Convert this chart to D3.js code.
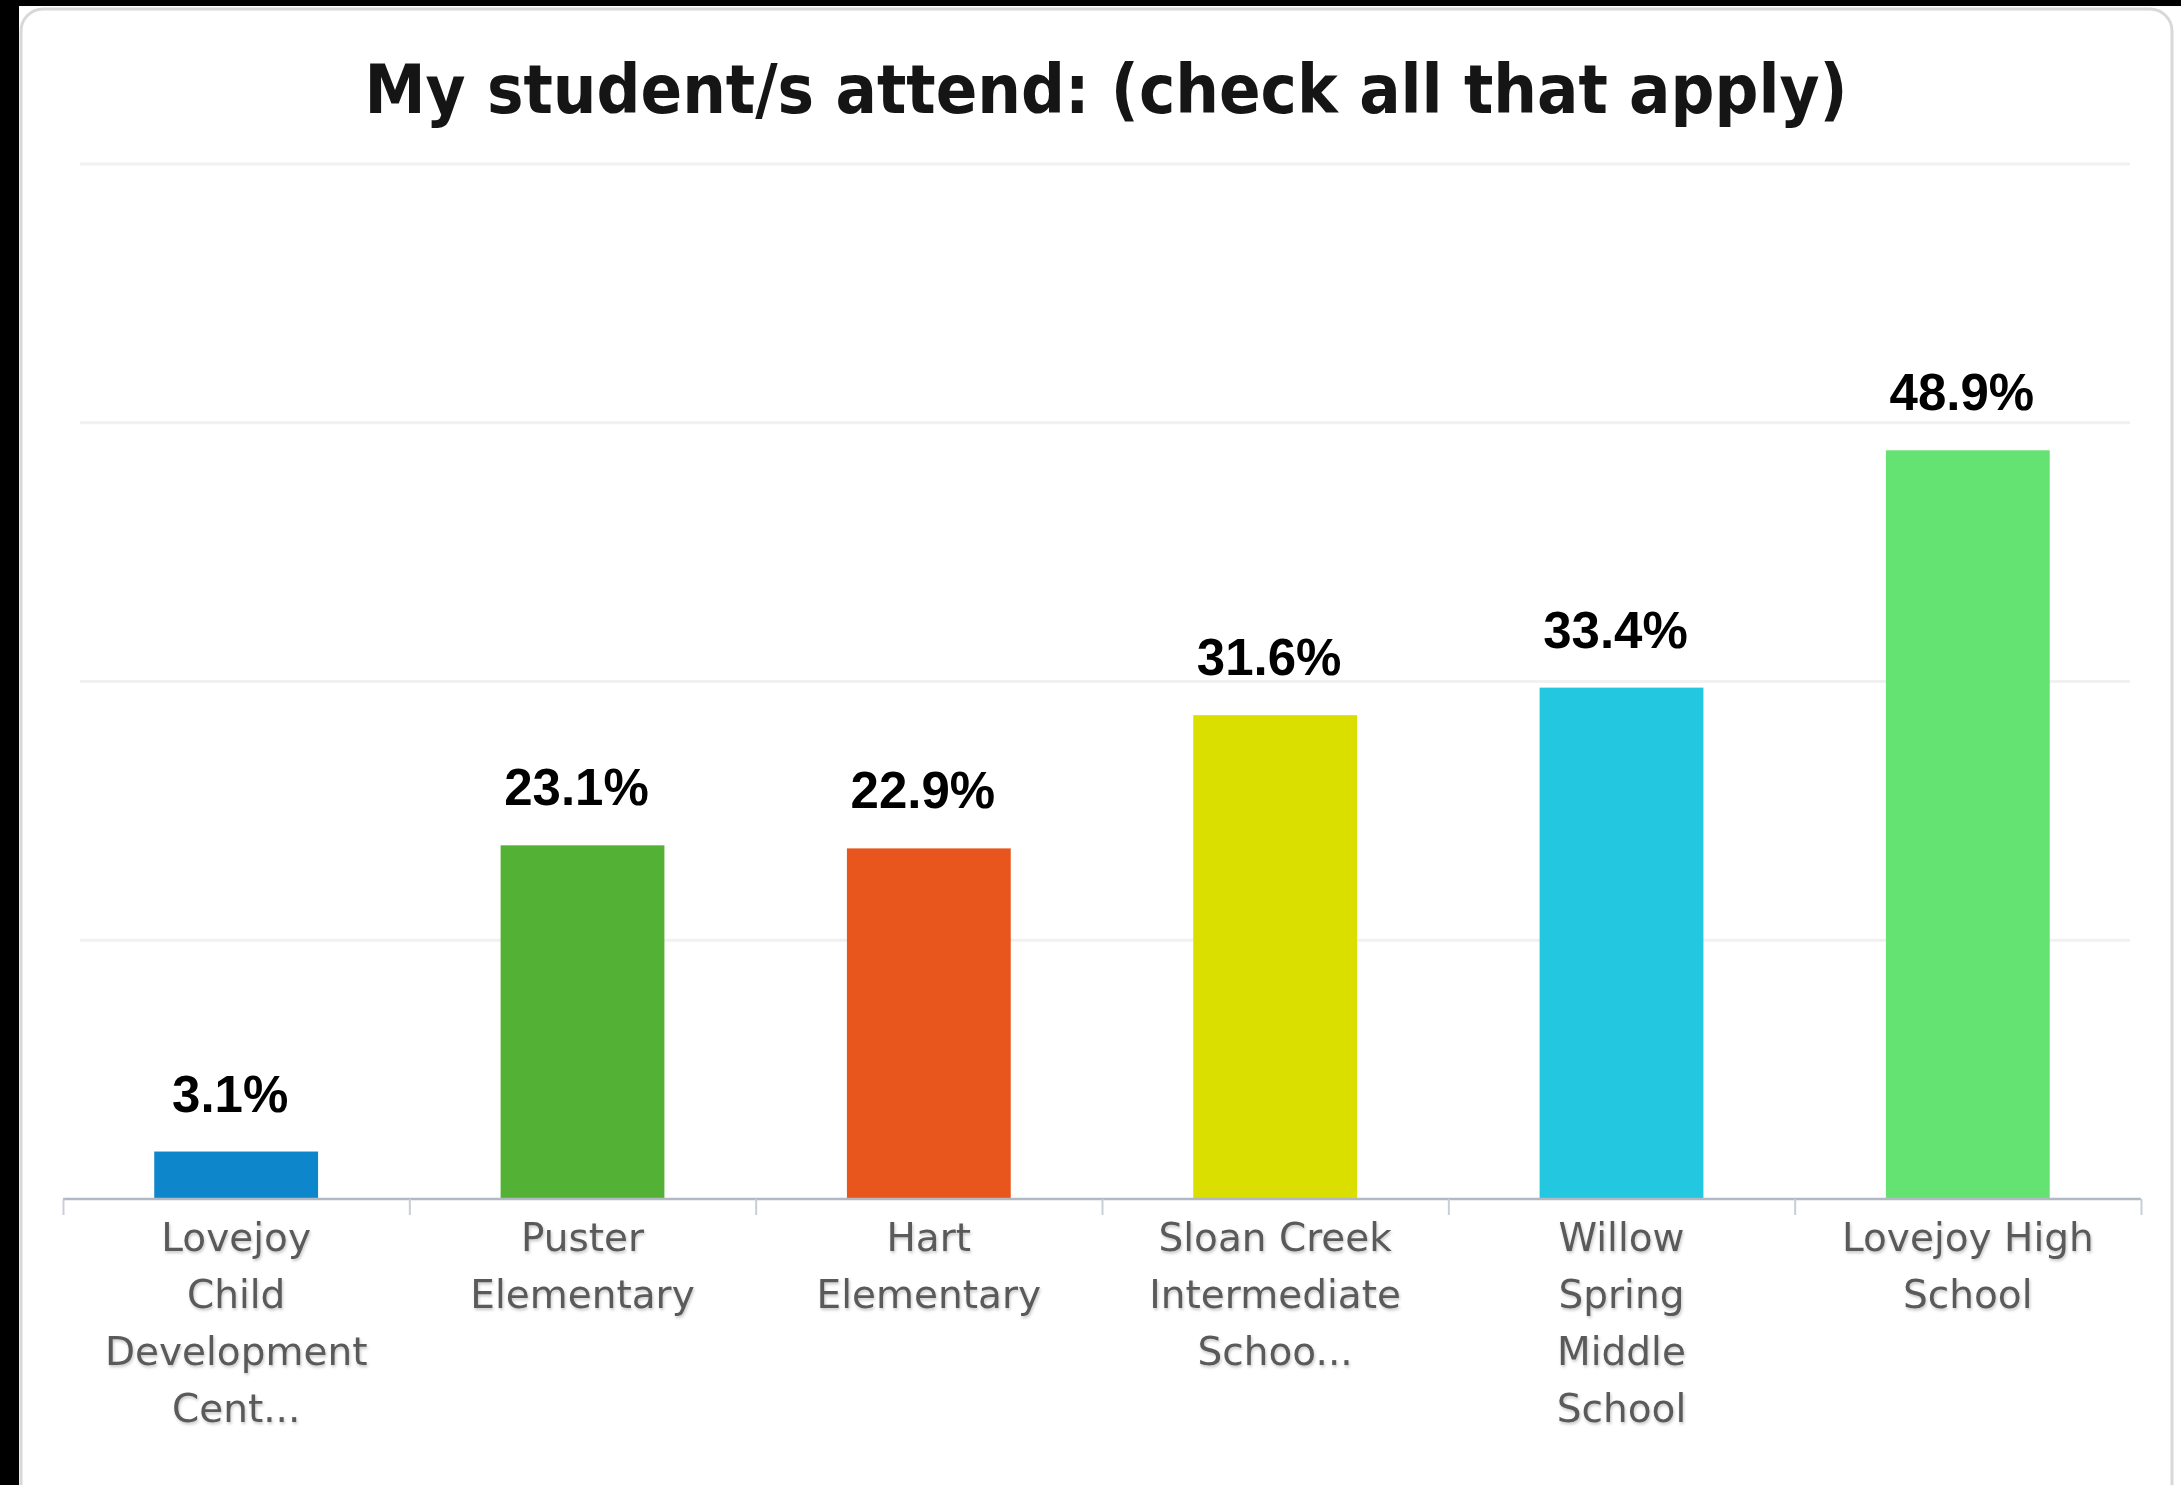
<!DOCTYPE html>
<html>
<head>
<meta charset="utf-8">
<script src="https://cdn.jsdelivr.net/npm/d3@7"></script>
<style>
  html, body { margin: 0; padding: 0; background: #ffffff; }
  svg { display: block; }
</style>
</head>
<body>
<svg id="chart" width="2181" height="1485"></svg>
<script>
// ---- data ----
const title = "My student/s attend: (check all that apply)";
const categories = [
  ["Lovejoy", "Child", "Development", "Cent..."],
  ["Puster", "Elementary"],
  ["Hart", "Elementary"],
  ["Sloan Creek", "Intermediate", "Schoo..."],
  ["Willow", "Spring", "Middle", "School"],
  ["Lovejoy High", "School"]
];
const values = [3.1, 23.1, 22.9, 31.6, 33.4, 48.9];
const valueLabels = ["3.1%", "23.1%", "22.9%", "31.6%", "33.4%", "48.9%"];
const barColors = ["#0d86cb", "#53b236", "#e8561d", "#dbdf00", "#23c7e0", "#65e372"];
const gridValues = [0, 16.9, 33.8, 50.7, 67.6];

// ---- layout ----
const W = 2181, H = 1485;
const svg = d3.select("#chart");
const keys = categories.map(c => c.join(" "));

const x = d3.scaleBand()
  .domain(keys)
  .range([63, 2141])
  .paddingInner(0.527)
  .paddingOuter(0.2635);

const y = d3.scaleLinear()
  .domain([0, 67.6])
  .range([1199, 164]);

// background frame (photo of a panel on black)
svg.append("rect").attr("x", 0).attr("y", 0).attr("width", W).attr("height", H).attr("fill", "#ffffff");
svg.append("rect").attr("x", 21).attr("y", 9).attr("width", 2151).attr("height", H + 40)
  .attr("rx", 22).attr("fill", "#ffffff").attr("stroke", "#d8d8d8").attr("stroke-width", 3);
svg.append("rect").attr("x", 0).attr("y", 0).attr("width", W).attr("height", 6).attr("fill", "#000");
svg.append("rect").attr("x", 0).attr("y", 0).attr("width", 19).attr("height", H).attr("fill", "#000");

const defs = svg.append("defs");
const f = defs.append("filter").attr("id", "soft").attr("x", "-10%").attr("y", "-20%").attr("width", "120%").attr("height", "160%");
f.append("feDropShadow").attr("dx", 1).attr("dy", 2).attr("stdDeviation", 1.5)
  .attr("flood-color", "#000").attr("flood-opacity", 0.22);

// title
svg.append("text")
  .attr("x", 1106).attr("y", 113)
  .attr("text-anchor", "middle")
  .attr("font-family", "'DejaVu Sans Condensed', 'DejaVu Sans', sans-serif")
  .attr("font-weight", "bold")
  .attr("font-size", 67)
  .attr("fill", "#151515")
  .attr("textLength", 1483)
  .attr("lengthAdjust", "spacingAndGlyphs")
  .text(title);

// gridlines
svg.append("g").selectAll("line")
  .data(gridValues.slice(1))
  .join("line")
  .attr("x1", 80).attr("x2", 2130)
  .attr("y1", d => y(d)).attr("y2", d => y(d))
  .attr("stroke", "#f1f1f1").attr("stroke-width", 3);

// bars
svg.append("g").selectAll("rect")
  .data(values)
  .join("rect")
  .attr("x", (d, i) => x(keys[i]))
  .attr("width", x.bandwidth())
  .attr("y", d => y(d))
  .attr("height", d => y(0) - y(d))
  .attr("fill", (d, i) => barColors[i]);

// axis line and boundary ticks
const axisScale = d3.scaleLinear().domain([0, keys.length]).range([x.range()[0], x.range()[1]]);
const axisG = svg.append("g").attr("transform", `translate(0,${y(0)})`)
  .call(d3.axisBottom(axisScale).tickValues(d3.range(keys.length + 1)).tickSize(16).tickFormat(""));
axisG.select(".domain").attr("stroke", "#b2b9c4").attr("stroke-width", 2.5)
  .attr("d", `M${x.range()[0]},0H${x.range()[1]}`);
axisG.selectAll(".tick line").attr("stroke", "#c8ced6").attr("stroke-width", 2);

// category labels
const lab = svg.append("g").attr("filter", "url(#soft)");
categories.forEach((lines, i) => {
  const cx = x(keys[i]) + x.bandwidth() / 2;
  const t = lab.append("text")
    .attr("text-anchor", "middle")
    .attr("font-family", "'DejaVu Sans', sans-serif")
    .attr("font-size", 39)
    .attr("fill", "#5a5a5a");
  lines.forEach((ln, j) => {
    t.append("tspan").attr("x", cx).attr("y", 1251 + j * 57).text(ln);
  });
});

// value labels
svg.append("g").selectAll("text")
  .data(values)
  .join("text")
  .attr("x", (d, i) => x(keys[i]) + x.bandwidth() / 2 - 6)
  .attr("y", d => y(d) - 40)
  .attr("text-anchor", "middle")
  .attr("font-family", "'Liberation Sans', Arial, sans-serif")
  .attr("font-weight", "bold")
  .attr("font-size", 51)
  .attr("fill", "#000")
  .text((d, i) => valueLabels[i]);
</script>
</body>
</html>
